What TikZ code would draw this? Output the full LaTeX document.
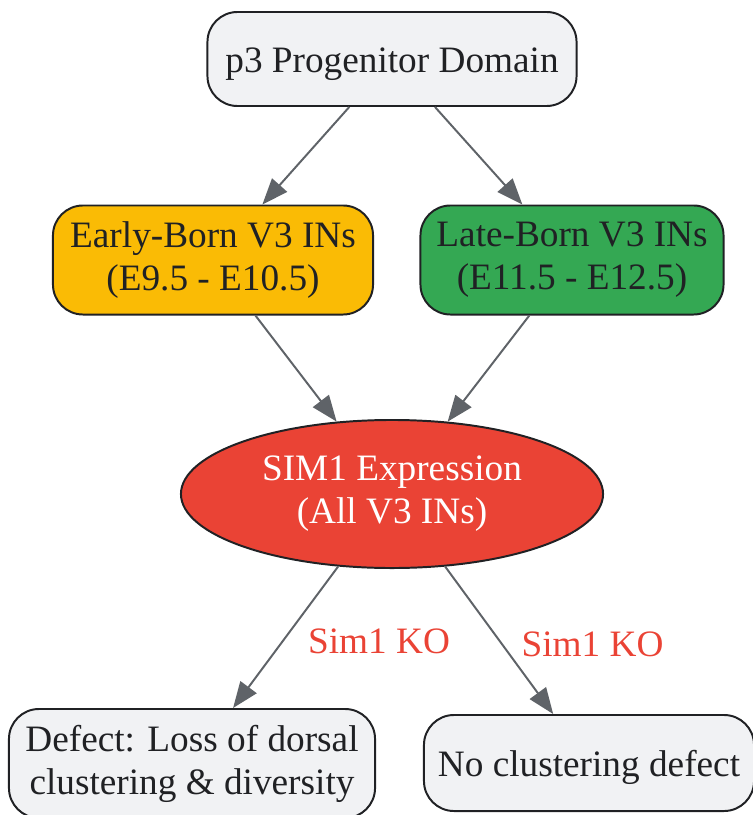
\documentclass[tikz,border=0pt]{standalone}
\usepackage{fontspec}
\setmainfont{Liberation Serif}
\usetikzlibrary{arrows.meta,shapes.geometric}
\definecolor{boxgray}{HTML}{F1F2F4}
\definecolor{earlyyellow}{HTML}{FABB05}
\definecolor{lategreen}{HTML}{34A853}
\definecolor{simred}{HTML}{EA4335}
\definecolor{arrowgray}{HTML}{5F6368}
\definecolor{textdark}{HTML}{202124}

\begin{document}
\begin{tikzpicture}[x=0.025cm, y=-0.025cm,
        font=\fontsize{26.5}{30.5}\selectfont,
        box/.style={draw=textdark, line width=1.4pt, rounded corners=0.75cm, align=center, text=textdark,
            execute at begin node={\rule{0pt}{0.95em}}},
        flow/.style={draw=arrowgray, line width=1.4pt, -{Triangle[length=0.65cm, width=0.5cm]}},
        ko/.style={text=simred, right=0.42cm, yshift=-0.1cm}]
    \useasboundingbox (0,0) rectangle (753,815);

    \node[box, fill=boxgray, minimum width=9.225cm, minimum height=2.35cm] (p3) at (392,59) {p3 Progenitor Domain};
    \node[box, fill=earlyyellow, minimum width=8cm, minimum height=2.725cm] (early) at (213,260) {Early-Born V3 INs\\(E9.5 - E10.5)};
    \node[box, fill=lategreen, minimum width=7.575cm, minimum height=2.725cm] (late) at (572,260) {Late-Born V3 INs\\(E11.5 - E12.5)};
    \node[ellipse, draw=textdark, line width=1.4pt, fill=simred, text=white, align=center,
        minimum width=10.55cm, minimum height=3.7cm, inner sep=0pt] (sim) at (392,494) {SIM1 Expression\\(All V3 INs)};
    \node[box, fill=boxgray, minimum width=9.15cm, minimum height=2.725cm] (defect) at (192,763.5) {Defect: Loss of dorsal\\clustering \& diversity};
    \node[box, fill=boxgray, minimum width=8.25cm, minimum height=2.4cm] (nodefect) at (589,763) {No clustering defect};

    \draw[flow] (p3) -- (early);
    \draw[flow] (p3) -- (late);
    \draw[flow] (early) -- (sim);
    \draw[flow] (late) -- (sim);
    \draw[flow] (sim) -- node[pos=0.5, ko] {Sim1 KO} (defect);
    \draw[flow] (sim) -- node[pos=0.5, ko] {Sim1 KO} (nodefect);
\end{tikzpicture}
\end{document}
